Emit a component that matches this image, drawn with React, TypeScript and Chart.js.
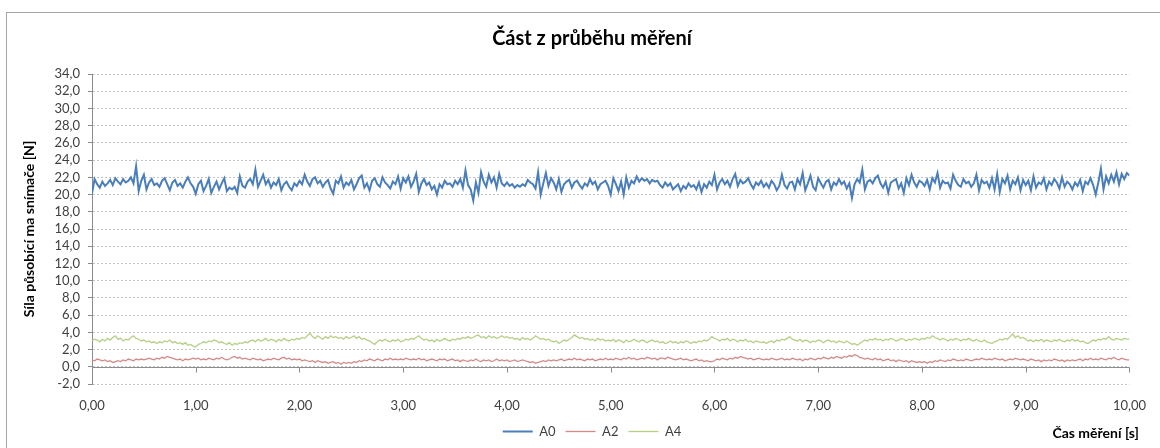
import React, { useEffect, useRef } from "react";
import { Chart, registerables } from "chart.js";

Chart.register(...registerables);

const TITLE = "Část z průběhu měření";
const Y_TITLE = "Síla působící ma snímače [N]";
const X_TITLE = "Čas měření [s]";
const SERIES_NAMES = ["A0", "A2", "A4"];
const SERIES_COLORS = ["#4a7ebb", "#d48a88", "#b5cf85"];
const T_START = 0;
const T_END = 10;

// A0, sampled every 0.025 s
const A0_VALUES = [
  20.1, 21.8, 21.2, 20.8, 21.5, 21.0, 21.3, 21.7, 21.1, 21.9, 21.5, 21.2, 21.8, 21.4, 21.6, 22.0, 21.3, 23.3, 20.4, 21.6,
  22.3, 20.6, 21.4, 21.8, 21.1, 21.3, 20.9, 21.6, 21.9, 21.2, 20.5, 21.4, 21.7, 21.0, 21.3, 20.8, 21.5, 22.0, 21.3, 20.9,
  20.1, 21.2, 21.6, 20.4, 21.0, 21.8, 20.2, 20.9, 21.5, 20.6, 21.3, 21.9, 20.4, 20.8, 20.6, 20.9, 20.2, 22.1, 21.0, 20.8,
  21.5, 21.8, 21.2, 22.9, 20.9, 21.6, 22.3, 21.2, 21.7, 20.8, 21.4, 21.1, 21.8, 20.5, 21.2, 21.5, 20.9, 20.5, 21.3, 21.0,
  21.6, 21.2, 22.3, 21.5, 21.0, 21.8, 22.0, 21.3, 21.6, 20.9, 21.4, 21.7, 20.7, 20.1, 21.6, 21.3, 22.1, 20.8, 21.4, 21.1,
  21.7, 20.6, 21.2, 21.9, 22.2, 20.8, 21.3, 20.5, 21.6, 21.9, 21.2, 20.9, 22.0, 21.4, 21.1, 20.7, 21.5, 21.2, 22.1, 20.7,
  21.9, 21.4, 22.1, 20.9, 21.5, 22.4, 20.3, 21.3, 21.8, 21.1, 21.4, 20.6, 21.0, 20.0, 21.2, 20.8, 21.6, 21.2, 21.3, 20.9,
  21.6, 21.2, 21.8, 20.8, 22.8, 21.1, 20.6, 19.3, 21.4, 20.2, 22.6, 21.5, 20.9, 22.3, 21.4, 22.0, 20.8, 22.4, 21.3, 21.0,
  21.4, 21.0, 21.2, 20.8, 21.1, 20.9, 21.2, 21.0, 21.7, 21.4, 21.2, 20.7, 22.6, 20.0, 21.3, 22.5, 21.0, 21.9, 21.4, 20.6,
  21.8, 20.3, 21.2, 21.5, 21.7, 20.8, 21.4, 21.6, 21.1, 20.7, 21.3, 21.0, 21.8, 21.2, 21.5, 20.6, 21.2, 21.4, 21.6, 21.0,
  20.0, 21.9, 21.2, 20.4, 21.5, 20.0, 22.0, 20.8, 21.6, 21.3, 22.1, 21.5, 21.9, 21.6, 21.8, 21.3, 21.7, 21.5, 21.6, 21.1,
  20.8, 21.4, 21.0, 21.3, 20.6, 20.9, 21.2, 20.4, 21.0, 20.7, 21.3, 20.9, 21.1, 20.6, 21.4, 20.3, 21.2, 20.8, 21.5, 21.1,
  22.3, 20.6, 21.4, 21.8, 21.2, 21.6, 20.9, 21.8, 22.4, 21.0, 21.7, 21.3, 21.5, 21.9, 21.2, 20.7, 21.4, 21.1, 21.6, 20.9,
  21.3, 20.8, 21.6, 21.2, 20.5, 21.0, 22.3, 21.1, 20.7, 21.4, 21.5, 20.6, 21.8, 21.2, 22.5, 20.5, 21.3, 22.2, 20.9, 20.5,
  21.9, 21.3, 20.8, 21.5, 21.7, 20.6, 21.4, 21.1, 21.8, 21.2, 21.5, 20.7, 21.3, 19.6, 21.2, 21.8, 21.4, 22.9, 20.6, 21.5,
  21.7, 21.3, 21.9, 22.2, 21.3, 20.8, 21.5, 20.2, 21.4, 21.6, 21.8, 20.7, 21.3, 20.2, 21.9, 21.1, 22.3, 21.4, 20.9, 21.6,
  21.4, 21.0, 21.7, 20.6, 21.9, 21.4, 22.5, 20.8, 21.6, 21.3, 21.4, 20.7, 22.3, 21.6, 21.1, 20.9, 21.8, 21.3, 21.5, 20.9,
  21.3, 22.3, 20.5, 21.7, 21.3, 21.5, 20.8, 21.9, 20.6, 22.4, 20.3, 21.8, 21.3, 22.2, 20.6, 21.6, 21.2, 22.0, 20.5, 21.7,
  21.1, 21.6, 20.5, 22.1, 20.8, 21.4, 21.2, 21.9, 20.6, 21.5, 21.1, 21.8, 21.4, 20.7, 22.0, 20.9, 21.5, 21.2, 20.6, 21.4,
  21.0, 21.7, 20.4, 21.5, 21.2, 21.9, 21.1, 20.0, 21.4, 23.0, 20.6, 22.1, 21.3, 22.3, 21.5, 22.6, 21.2, 22.4, 21.8, 22.5,
  22.2,
];

// A2, sampled every 0.025 s
const A2_VALUES = [
  0.8, 0.7, 0.9, 0.8, 0.7, 0.8, 0.6, 0.7, 0.5, 0.6, 0.7, 0.6, 0.8, 0.7, 0.9, 0.8, 0.7, 0.9, 0.8, 0.9,
  0.8, 0.9, 1.0, 0.9, 0.8, 1.0, 0.9, 1.1, 1.0, 1.2, 1.1, 1.0, 0.9, 0.8, 0.9, 0.7, 0.9, 0.8, 0.9, 1.0,
  0.9, 1.0, 0.8, 0.9, 0.8, 1.0, 0.9, 0.8, 1.0, 0.9, 1.1, 0.9, 0.8, 0.9, 1.1, 1.2, 1.0, 1.1, 0.9, 1.0,
  0.9, 0.8, 1.0, 0.9, 0.8, 0.9, 0.7, 0.8, 0.9, 0.8, 1.0, 0.9, 0.8, 1.0, 1.1, 0.9, 1.0, 0.8, 0.9, 0.8,
  0.9, 0.7, 0.8, 0.7, 0.6, 0.7, 0.5, 0.7, 0.6, 0.5, 0.6, 0.4, 0.5, 0.6, 0.4, 0.5, 0.3, 0.5, 0.4, 0.5,
  0.4, 0.6, 0.5, 0.7, 0.6, 0.8, 0.7, 0.9, 0.8, 0.7, 0.9, 0.8, 0.7, 0.9, 0.8, 1.0, 0.8, 0.9, 0.8, 0.9,
  0.8, 1.0, 0.9, 0.8, 0.9, 0.8, 1.0, 0.8, 0.9, 0.7, 0.8, 0.9, 0.8, 0.7, 0.9, 0.8, 0.9, 0.7, 0.8, 0.9,
  0.7, 0.8, 0.6, 0.8, 0.7, 0.6, 0.8, 0.7, 0.9, 0.7, 0.6, 0.8, 0.7, 0.8, 0.6, 0.7, 0.9, 0.7, 0.8, 0.7,
  0.8, 0.6, 0.7, 0.8, 0.6, 0.7, 0.8, 0.7, 0.6, 0.5, 0.6, 0.4, 0.5, 0.6, 0.7, 0.6, 0.8, 0.7, 0.8, 0.7,
  0.8, 0.9, 0.7, 0.8, 0.9, 0.8, 1.0, 0.8, 0.9, 0.8, 0.7, 0.9, 0.8, 0.9, 0.7, 0.8, 0.9, 0.8, 1.0, 0.8,
  0.9, 0.8, 1.0, 0.9, 0.8, 1.0, 0.9, 1.1, 0.9, 1.0, 0.8, 0.9, 1.0, 0.9, 1.1, 1.0, 0.9, 1.0, 0.8, 1.0,
  1.0, 0.9, 1.1, 1.0, 0.9, 0.8, 0.9, 1.0, 0.8, 0.9, 0.8, 0.7, 0.8, 0.9, 0.7, 0.8, 0.6, 0.7, 0.6, 0.6,
  0.7, 0.9, 0.8, 1.0, 0.9, 0.8, 1.0, 0.9, 1.1, 1.0, 1.2, 1.1, 1.0, 0.9, 1.0, 0.8, 0.9, 1.0, 0.9, 0.8,
  0.9, 0.8, 1.0, 0.9, 0.8, 0.9, 1.0, 0.8, 0.9, 0.8, 1.0, 0.9, 0.8, 0.9, 0.7, 0.9, 0.8, 1.0, 0.9, 0.8,
  1.0, 0.9, 1.1, 1.0, 0.9, 1.1, 1.0, 1.2, 1.1, 1.0, 1.2, 1.1, 1.3, 1.2, 1.4, 1.3, 1.1, 1.0, 0.9, 1.0,
  0.9, 0.8, 1.0, 0.8, 0.9, 0.7, 0.8, 0.9, 0.7, 0.8, 0.6, 0.8, 0.7, 0.6, 0.7, 0.5, 0.7, 0.6, 0.5, 0.6,
  0.5, 0.6, 0.4, 0.6, 0.5, 0.7, 0.6, 0.8, 0.7, 0.6, 0.8, 0.7, 0.9, 0.8, 0.7, 0.8, 0.7, 0.9, 0.8, 0.7,
  0.8, 0.9, 0.8, 1.0, 0.9, 0.8, 0.9, 0.8, 1.0, 0.9, 0.8, 0.9, 0.7, 0.8, 0.9, 0.8, 1.0, 0.9, 0.8, 0.9,
  0.8, 0.7, 0.9, 0.8, 0.7, 0.8, 0.6, 0.8, 0.7, 0.8, 0.7, 0.9, 0.8, 0.7, 0.8, 0.6, 0.8, 0.7, 0.8, 0.7,
  0.8, 0.9, 0.7, 0.9, 0.8, 1.0, 0.8, 0.9, 0.8, 1.0, 0.9, 0.8, 1.0, 0.9, 1.1, 0.9, 0.8, 1.0, 0.9, 0.8,
  0.8,
];

// A4, sampled every 0.025 s
const A4_VALUES = [
  3.0, 3.2, 3.1, 2.9, 3.2, 3.0, 3.3, 3.1, 3.4, 3.6, 3.2, 3.3, 3.0, 3.2, 3.1, 3.4, 3.6, 3.3, 3.2, 3.0,
  3.1, 2.9, 3.0, 2.8, 2.9, 2.7, 2.9, 2.8, 3.0, 2.9, 3.1, 2.8, 2.9, 2.7, 2.8, 2.6, 2.8, 2.5, 2.6, 2.4,
  2.3, 2.6, 2.7, 2.9, 2.8, 3.0, 2.9, 3.1, 3.0, 2.8, 2.9, 2.7, 2.6, 2.8, 2.5, 2.7, 2.6, 2.8, 2.7, 2.9,
  2.8, 3.0, 3.1, 2.9, 3.2, 3.0, 3.1, 3.3, 3.0, 3.2, 3.1, 2.9, 3.2, 3.0, 3.3, 3.1, 3.0, 3.2, 3.1, 3.3,
  3.2, 3.4, 3.3, 3.6, 3.9, 3.5, 3.3, 3.6, 3.4, 3.2, 3.5, 3.3, 3.6, 3.4, 3.5, 3.3, 3.4, 3.2, 3.5, 3.3,
  3.4, 3.6, 3.3, 3.5, 3.2, 3.3, 3.1, 3.0, 2.8, 2.6, 2.9, 3.1, 3.0, 3.2, 3.0, 2.9, 3.1, 3.0, 3.2, 2.9,
  3.0, 3.2, 3.1, 3.3, 3.2, 3.4, 3.6, 3.3, 3.1, 3.2, 3.0, 3.1, 2.9, 3.2, 3.0, 3.1, 3.3, 3.1, 3.0, 3.2,
  3.1, 3.3, 3.2, 3.4, 3.3, 3.5, 3.3, 3.4, 3.6, 3.7, 3.4, 3.5, 3.3, 3.6, 3.4, 3.5, 3.3, 3.4, 3.6, 3.4,
  3.5, 3.3, 3.4, 3.2, 3.3, 3.1, 3.4, 3.2, 3.3, 3.1, 3.3, 3.6, 3.4, 3.2, 3.3, 3.1, 3.2, 3.0, 2.9, 3.0,
  2.7, 2.9, 3.1, 3.0, 3.2, 3.4, 3.7, 3.5, 3.3, 3.4, 3.2, 3.3, 3.1, 3.2, 3.0, 3.3, 3.1, 3.2, 3.0, 3.1,
  3.0, 3.2, 2.9, 3.1, 3.0, 2.8, 3.1, 2.9, 3.0, 3.2, 3.0, 2.9, 3.1, 3.0, 2.8, 3.0, 3.1, 2.9, 3.0, 2.8,
  2.9, 2.7, 2.8, 3.0, 2.8, 2.9, 2.7, 2.9, 2.8, 3.0, 2.9, 2.7, 2.9, 2.8, 3.0, 2.9, 3.1, 3.0, 3.2, 3.5,
  3.3, 3.2, 3.0, 3.2, 3.1, 3.3, 3.0, 3.2, 3.1, 2.9, 3.1, 3.0, 3.2, 2.9, 3.0, 2.8, 3.0, 2.9, 2.8, 2.9,
  2.7, 2.9, 3.0, 2.8, 3.1, 3.0, 3.2, 3.1, 3.3, 3.5, 3.2, 3.1, 3.0, 3.2, 2.9, 3.1, 3.0, 2.8, 3.0, 2.9,
  3.1, 3.0, 2.8, 3.0, 3.1, 2.9, 3.0, 2.8, 3.0, 2.9, 2.8, 3.0, 2.8, 2.6, 2.7, 2.5, 2.7, 2.9, 3.1, 3.0,
  3.2, 3.1, 3.3, 3.1, 3.2, 3.0, 3.2, 3.1, 3.3, 3.2, 3.0, 3.1, 3.3, 3.2, 3.0, 3.2, 3.1, 3.3, 3.2, 3.1,
  3.3, 3.2, 3.4, 3.3, 3.6, 3.4, 3.3, 3.1, 3.3, 3.2, 3.0, 3.2, 3.1, 3.3, 3.2, 3.0, 3.2, 3.1, 3.3, 3.1,
  3.0, 3.2, 3.0, 2.9, 3.1, 2.9, 2.8, 2.7, 2.9, 3.0, 3.2, 3.1, 3.3, 3.2, 3.5, 3.8, 3.4, 3.6, 3.3, 3.4,
  3.2, 3.0, 3.1, 2.9, 3.1, 3.0, 3.2, 2.9, 3.1, 3.0, 2.9, 3.1, 3.0, 3.2, 3.0, 2.9, 3.1, 3.0, 3.2, 3.0,
  3.1, 2.9, 3.0, 2.8, 2.7, 2.9, 3.1, 3.0, 3.2, 3.1, 3.3, 3.2, 3.5, 3.2, 3.1, 3.3, 3.2, 3.1, 3.3, 3.2,
  3.2,
];

const FONT = "Lato, 'Open Sans', sans-serif";
const TEXT = "#404040";

const toPoints = (vals: number[]) =>
  vals.map((y, i) => ({ x: T_START + (i * (T_END - T_START)) / (vals.length - 1), y }));

const fmt = (v: number, d: number) => Number(v).toFixed(d).replace(".", ",");

const axisAtZero = {
  id: "axisAtZero",
  beforeDatasetsDraw(chart: any) {
    const { ctx, chartArea, scales } = chart;
    const y0 = Math.round(scales.y.getPixelForValue(0)) + 0.5;
    ctx.save();
    ctx.strokeStyle = "#8c8c8c";
    ctx.lineWidth = 1;
    ctx.setLineDash([]);
    ctx.beginPath();
    ctx.moveTo(chartArea.left, y0);
    ctx.lineTo(chartArea.right, y0);
    scales.x.ticks.forEach((t: any) => {
      const px = Math.round(scales.x.getPixelForValue(t.value)) + 0.5;
      ctx.moveTo(px, y0);
      ctx.lineTo(px, y0 + 5);
    });
    ctx.stroke();
    ctx.restore();
  },
  afterDraw(chart: any) {
    const { ctx, chartArea } = chart;
    ctx.save();
    ctx.fillStyle = "#000000";
    ctx.font = `bold 14px ${FONT}`;
    ctx.textAlign = "right";
    ctx.textBaseline = "middle";
    ctx.fillText(X_TITLE, 1139, 433);
    ctx.translate(29, (chartArea.top + chartArea.bottom) / 2);
    ctx.rotate(-Math.PI / 2);
    ctx.textAlign = "center";
    ctx.fillText(Y_TITLE, 0, 0);
    ctx.restore();
  },
};

export default function App() {
  const ref = useRef<HTMLCanvasElement>(null);
  useEffect(() => {
    if (!ref.current) return;
    const seriesVals = [A0_VALUES, A2_VALUES, A4_VALUES];
    const chart = new Chart(ref.current, {
      type: "line",
      data: {
        datasets: SERIES_NAMES.map((name, i) => ({
          label: name,
          data: toPoints(seriesVals[i]),
          borderColor: SERIES_COLORS[i],
          backgroundColor: SERIES_COLORS[i],
          borderWidth: i === 0 ? 2 : 1.3,
          pointRadius: 0,
          tension: 0,
        })),
      },
      options: {
        animation: false,
        responsive: false,
        devicePixelRatio: 1,
        layout: { padding: { left: 42, right: 18, top: 0, bottom: 0 } },
        plugins: {
          title: {
            display: true,
            text: TITLE,
            color: "#000000",
            font: { family: FONT, size: 20, weight: "bold", lineHeight: 1.2 },
            padding: { top: 27, bottom: 23 },
          },
          legend: {
            position: "bottom",
            labels: {
              usePointStyle: true,
              pointStyle: "line",
              pointStyleWidth: 30,
              padding: 10,
              color: TEXT,
              font: { family: FONT, size: 13 },
            },
          },
          tooltip: { enabled: false },
        },
        scales: {
          x: {
            type: "linear",
            min: T_START,
            max: T_END,
            grid: { display: false, drawTicks: false },
            border: { display: false },
            ticks: {
              stepSize: 1,
              padding: 14,
              autoSkip: false,
              color: TEXT,
              font: { family: FONT, size: 13 },
              maxRotation: 0,
              callback: (v: any) => fmt(v, 2),
            },
            afterFit: (s: any) => {
              s.height = 31;
            },
          },
          y: {
            min: -2,
            max: 34,
            grid: {
              color: "#c4c4c4",
              tickColor: "#8c8c8c",
              tickBorderDash: [],
              tickLength: 4,
            },
            border: { display: true, color: "#8c8c8c", dash: [2, 2] },
            ticks: {
              stepSize: 2,
              padding: 8,
              autoSkip: false,
              color: TEXT,
              font: { family: FONT, size: 13 },
              callback: (v: any) => fmt(v, 1),
            },
            afterFit: (s: any) => {
              s.width = 50;
            },
          },
        },
      },
      plugins: [axisAtZero],
    } as any);
    return () => chart.destroy();
  }, []);

  return (
    <div
      style={{
        position: "fixed",
        left: 0,
        top: 0,
        width: 1160,
        height: 448,
        overflow: "hidden",
        background: "#ffffff",
      }}
    >
      <div
        style={{
          position: "absolute",
          left: 6,
          top: 12,
          width: 1200,
          height: 500,
          border: "1px solid #a6a6a6",
        }}
      />
      <canvas ref={ref} width={1160} height={448} style={{ position: "absolute", left: 0, top: 0 }} />
    </div>
  );
}
